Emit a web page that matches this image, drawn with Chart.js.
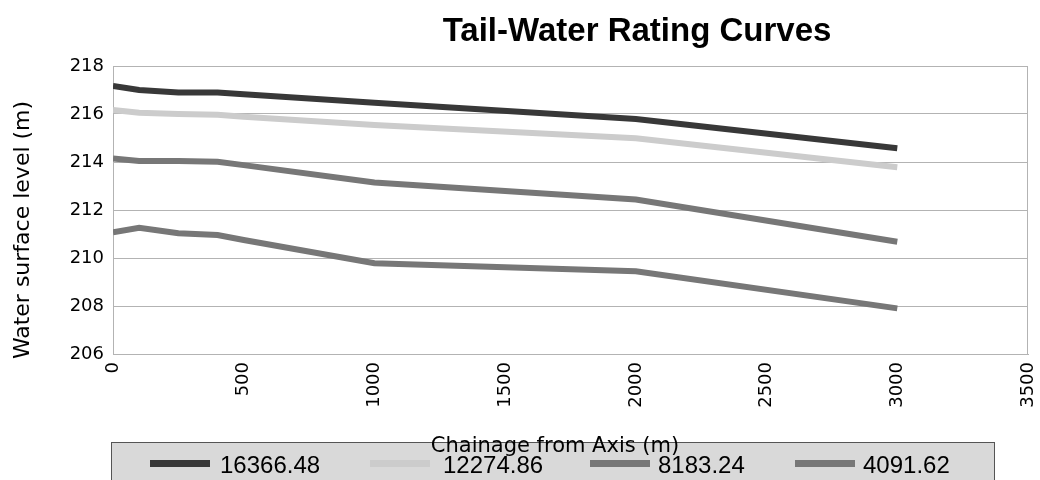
<!DOCTYPE html>
<html>
<head>
<meta charset="utf-8">
<script src="https://cdn.jsdelivr.net/npm/chart.js@4"></script>
<style>
  body { margin: 0; background: #fff; }
  #wrap { width: 1040px; height: 480px; position: relative; }
</style>
</head>
<body>
<div id="wrap"><canvas id="ratingChart"></canvas></div>
<script>
const chainage = [0, 100, 250, 400, 500, 1000, 2000, 3000]
const q16366 = [217.17, 217.0, 216.9, 216.9, 216.82, 216.47, 215.79, 214.57]
const q12274 = [216.17, 216.05, 216.0, 215.97, 215.89, 215.54, 214.99, 213.78]
const q8183 = [214.15, 214.04, 214.04, 214.01, 213.87, 213.15, 212.44, 210.68]
const q4091 = [211.07, 211.26, 211.03, 210.96, 210.75, 209.78, 209.45, 207.9]
const seriesLabels = ['16366.48', '12274.86', '8183.24', '4091.62']
const seriesColors = ['#383838', '#cccccc', '#777777', '#777777']

const toPoints = vals => vals.map((v, i) => ({ x: chainage[i], y: v }))

// frame, title, axis titles and the grey legend box
const decorations = {
  id: 'decorations',
  beforeDatasetsDraw(chart) {
    const { ctx, chartArea: a } = chart
    ctx.save()
    ctx.strokeStyle = '#b3b3b3'
    ctx.lineWidth = 1
    ctx.strokeRect(a.left + 0.5, a.top + 0.5, a.right - a.left - 1, a.bottom - a.top)
    ctx.restore()
  },
  afterDraw(chart) {
    const ctx = chart.ctx
    ctx.save()

    ctx.fillStyle = '#000'
    ctx.font = 'bold 33px "Liberation Sans", Arial, sans-serif'
    ctx.textAlign = 'center'
    ctx.textBaseline = 'alphabetic'
    ctx.fillText('Tail-Water Rating Curves', 637, 41)

    ctx.save()
    ctx.translate(29, 230)
    ctx.rotate(-Math.PI / 2)
    ctx.font = '22px "DejaVu Sans", sans-serif'
    ctx.fillText('Water surface level (m)', 0, 0)
    ctx.restore()

    // legend box
    ctx.fillStyle = '#d9d9d9'
    ctx.fillRect(111.5, 442.5, 883, 40)
    ctx.strokeStyle = '#555'
    ctx.lineWidth = 1
    ctx.strokeRect(111.5, 442.5, 883, 40)

    const swatchX = [150, 370, 590, 795]
    const textX = [220, 443, 658, 863]
    ctx.font = '24px "Liberation Sans", Arial, sans-serif'
    ctx.textAlign = 'left'
    seriesLabels.forEach((label, i) => {
      ctx.fillStyle = seriesColors[i]
      ctx.fillRect(swatchX[i], 460, 60, 7)
      ctx.fillStyle = '#000'
      ctx.fillText(label, textX[i], 473)
    })

    ctx.fillStyle = '#000'
    ctx.textAlign = 'center'
    ctx.font = '21px "DejaVu Sans", sans-serif'
    ctx.fillText('Chainage from Axis (m)', 555, 452)

    ctx.restore()
  }
}

new Chart(
  document.getElementById('ratingChart'),
  {
    type: 'line',
    data: {
      datasets: [q16366, q12274, q8183, q4091].map((vals, i) => ({
        label: seriesLabels[i],
        data: toPoints(vals),
        borderColor: seriesColors[i],
        backgroundColor: seriesColors[i],
        borderWidth: 6,
        borderCapStyle: 'butt',
        pointRadius: 0,
        tension: 0,
        fill: false
      }))
    },
    options: {
      responsive: true,
      maintainAspectRatio: false,
      animation: false,
      layout: { padding: { top: 66, right: 12, left: 0, bottom: 0 } },
      plugins: {
        legend: { display: false },
        title: { display: false },
        tooltip: { enabled: false }
      },
      scales: {
        x: {
          type: 'linear',
          min: 0,
          max: 3500,
          afterFit: s => {
            s.height = 126
            s.paddingLeft = 0
            s.paddingRight = 0
          },
          ticks: {
            stepSize: 500,
            minRotation: 90,
            maxRotation: 90,
            padding: 8,
            color: '#000',
            font: { family: 'DejaVu Sans', size: 18 },
            callback: v => String(v)
          },
          grid: { display: false, drawTicks: false },
          border: { color: '#b3b3b3' }
        },
        y: {
          min: 206,
          max: 218,
          afterFit: s => { s.width = 113 },
          ticks: {
            stepSize: 2,
            padding: 9,
            color: '#000',
            font: { family: 'DejaVu Sans', size: 18 },
            callback: v => String(v)
          },
          grid: { color: '#b3b3b3', drawTicks: false },
          border: { color: '#b3b3b3' }
        }
      }
    },
    plugins: [decorations]
  }
)
</script>
</body>
</html>
